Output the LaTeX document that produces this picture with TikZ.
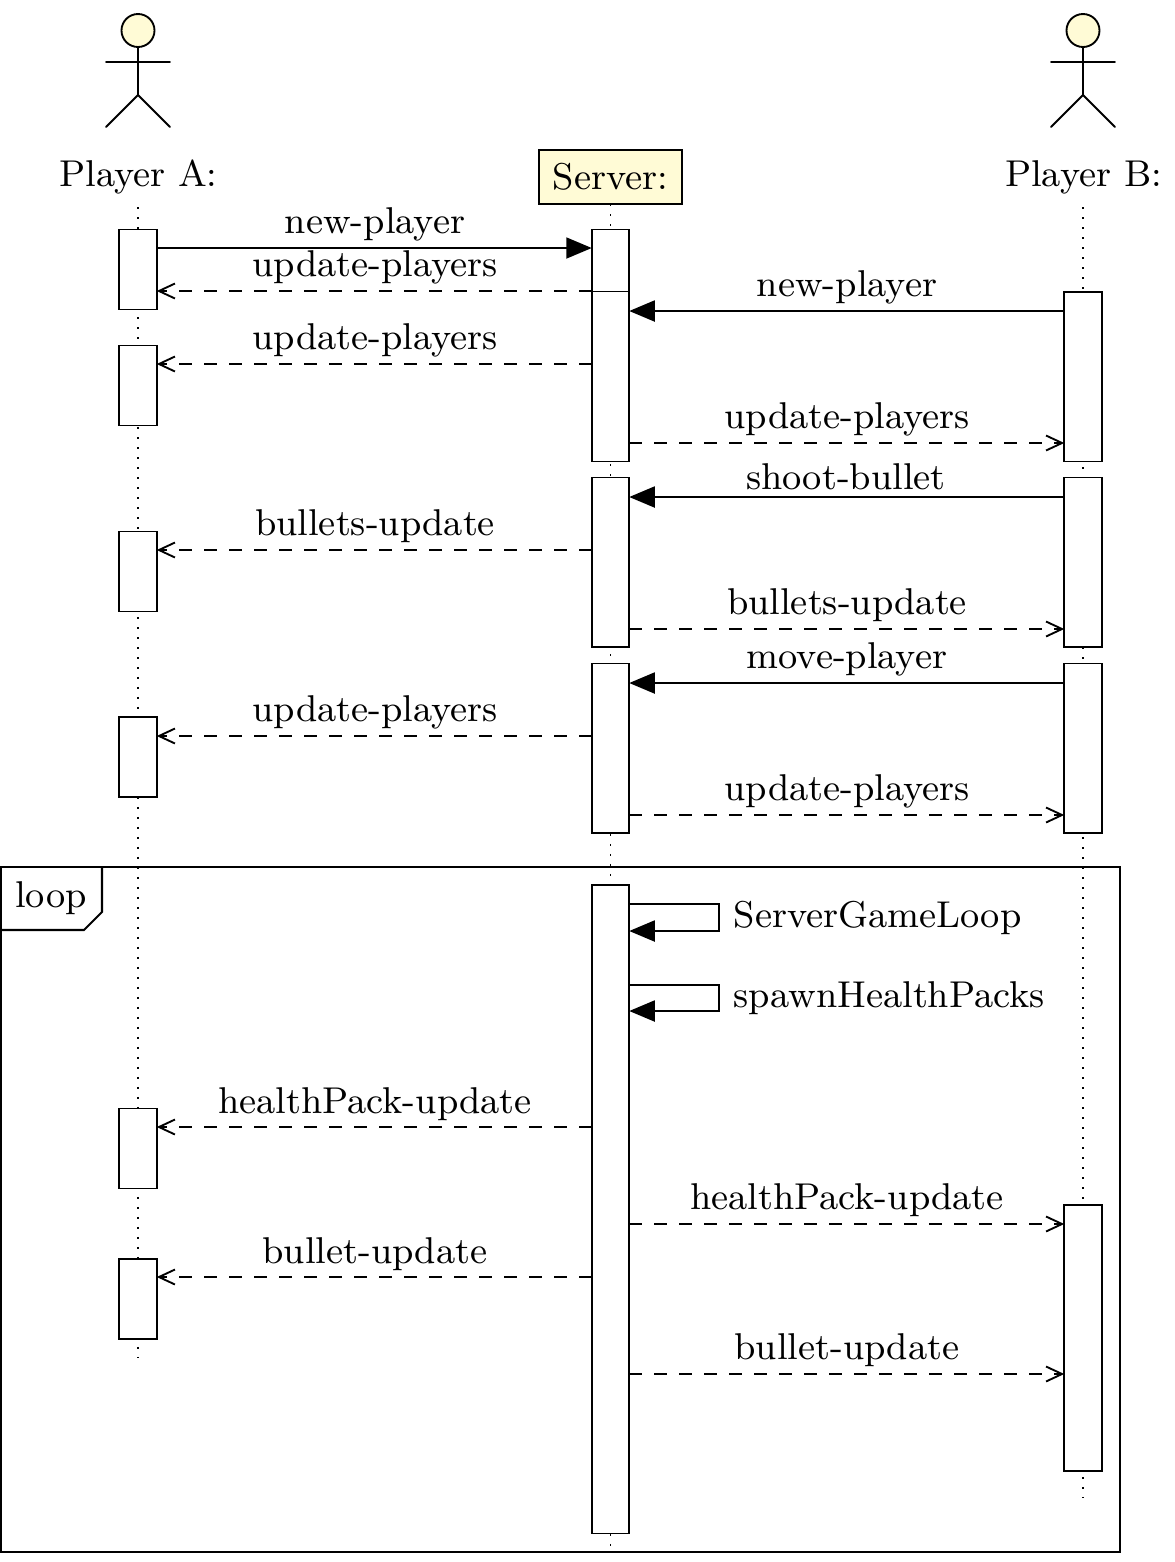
\documentclass[tikz,border=0pt]{standalone}
\usetikzlibrary{arrows.meta}
\definecolor{actoryellow}{RGB}{255,251,214}
\tikzset{
  x=0.24pt,y=-0.24pt,
  every node/.style={font=\fontsize{9}{11}\selectfont},
  lifeline/.style={dotted,line width=0.4pt},
  actbox/.style={draw,fill=white,line width=0.45pt,inner sep=0,outer sep=0,minimum width=37.5*0.24pt},
  limb/.style={line width=0.45pt,line cap=round},
  head/.style={circle,draw,fill=actoryellow,line width=0.45pt,inner sep=0,outer sep=0,minimum size=33*0.24pt},
  roletext/.style={anchor=base,inner sep=0,scale=0.995},
  serverbox/.style={draw,fill=actoryellow,line width=0.5pt,inner sep=0,outer sep=0,minimum width=143*0.24pt,minimum height=54*0.24pt},
  lbl/.style={anchor=base,inner sep=0,scale=0.995},
  sidelbl/.style={anchor=base west,inner sep=0,scale=0.995},
  call/.style={line width=0.45pt,-{Triangle[length=25.5*0.24pt,width=21*0.24pt]}},
  reply/.style={line width=0.45pt,dashed,-{Straight Barb[length=16*0.24pt,width=15*0.24pt,line width=0.45pt]}},
  loopframe/.style={draw,line width=0.6pt},
  looptagline/.style={line width=0.5pt}
}
\newcommand{\abox}[4]{\node[actbox,minimum height={(#4-#3)*0.24pt}] (#1) at (#2,{(#3+#4)/2}) {};}
\begin{document}
\begin{tikzpicture}
\useasboundingbox (0,0) rectangle (1175,1562);
% loop frame
\coordinate (fa) at (0.5,867);
\coordinate (fb) at (1120,1552);
\draw[loopframe] (fa) rectangle (fb);
% lifelines
\coordinate (la0) at (138,207); \coordinate (la1) at (138,1358);
\coordinate (ls0) at (610.5,204); \coordinate (ls1) at (610.5,1552);
\coordinate (lb0) at (1083,207); \coordinate (lb1) at (1083,1498);
\draw[lifeline] (la0) -- (la1);
\draw[lifeline] (ls0) -- (ls1);
\draw[lifeline] (lb0) -- (lb1);
% loop tag
\node[lbl] (looplabel) at (51,907) {loop};
\coordinate (t1) at (102,867); \coordinate (t2) at (102,912); \coordinate (t3) at (84,930); \coordinate (t4) at (0.5,930);
\draw[looptagline] (t1) -- (t2) -- (t3) -- (t4);
% actor A
\node[head] (headA) at (138,30.5) {};
\coordinate (hipA) at (138,95);
\coordinate (armAl) at (106,62); \coordinate (armAr) at (170,62);
\coordinate (legAl) at (106,127); \coordinate (legAr) at (170,127);
\draw[limb] (headA.south) -- (hipA);
\draw[limb] (armAl) -- (armAr);
\draw[limb] (legAl) -- (hipA) -- (legAr);
\node[roletext] (nameA) at (138.5,186) {Player A:};
% actor B
\node[head] (headB) at (1083,30.5) {};
\coordinate (hipB) at (1083,95);
\coordinate (armBl) at (1051,62); \coordinate (armBr) at (1115,62);
\coordinate (legBl) at (1051,127); \coordinate (legBr) at (1115,127);
\draw[limb] (headB.south) -- (hipB);
\draw[limb] (armBl) -- (armBr);
\draw[limb] (legBl) -- (hipB) -- (legBr);
\node[roletext] (nameB) at (1083.5,186) {Player B:};
% server
\node[serverbox] (server) at (610.5,177) {};
\node[lbl] (servername) at (610.5,189) {Server:};
% activation boxes
\abox{a1}{138}{229.5}{309.5}
\abox{a2}{138}{345.5}{425.5}
\abox{a3}{138}{531.5}{611.5}
\abox{a4}{138}{717}{797}
\abox{a5}{138}{1108.5}{1188.5}
\abox{a6}{138}{1259}{1339}
\abox{s1}{610.5}{229.5}{291.5}
\abox{s2}{610.5}{291.5}{461.5}
\abox{s3}{610.5}{477.5}{647}
\abox{s4}{610.5}{663.5}{833}
\abox{s5}{610.5}{885}{1533.5}
\abox{b1}{1083}{292}{461.5}
\abox{b2}{1083}{477.5}{647}
\abox{b3}{1083}{663.5}{833}
\abox{b4}{1083}{1205}{1471}
% messages
\draw[call] (a1.east |- 0,248) -- (s1.west |- 0,248);
\node[lbl] (m1) at (375,233) {new-player};
\draw[reply] (s1.west |- 0,291) -- (a1.east |- 0,291);
\node[lbl] (m2) at (375,276) {update-players};
\draw[call] (b1.west |- 0,311) -- (s2.east |- 0,311);
\node[lbl] (m3) at (847,296) {new-player};
\draw[reply] (s2.west |- 0,364) -- (a2.east |- 0,364);
\node[lbl] (m4) at (375,349) {update-players};
\draw[reply] (s2.east |- 0,443) -- (b1.west |- 0,443);
\node[lbl] (m5) at (847,428) {update-players};
\draw[call] (b2.west |- 0,497) -- (s3.east |- 0,497);
\node[lbl] (m6) at (846,489) {shoot-bullet};
\draw[reply] (s3.west |- 0,550) -- (a3.east |- 0,550);
\node[lbl] (m7) at (375,535) {bullets-update};
\draw[reply] (s3.east |- 0,629) -- (b2.west |- 0,629);
\node[lbl] (m8) at (847,614) {bullets-update};
\draw[call] (b3.west |- 0,683) -- (s4.east |- 0,683);
\node[lbl] (m9) at (847,668) {move-player};
\draw[reply] (s4.west |- 0,736) -- (a4.east |- 0,736);
\node[lbl] (m10) at (375,721) {update-players};
\draw[reply] (s4.east |- 0,815) -- (b3.west |- 0,815);
\node[lbl] (m11) at (847,800) {update-players};
% self calls
\coordinate (c1) at (719,904); \coordinate (c2) at (719,931);
\draw[call] (s5.east |- c1) -- (c1) -- (c2) -- (s5.east |- c2);
\node[sidelbl] (m12) at (733,927) {ServerGameLoop};
\coordinate (c3) at (719,985); \coordinate (c4) at (719,1011);
\draw[call] (s5.east |- c3) -- (c3) -- (c4) -- (s5.east |- c4);
\node[sidelbl] (m13) at (733,1007) {spawnHealthPacks};
% loop messages
\draw[reply] (s5.west |- 0,1127) -- (a5.east |- 0,1127);
\node[lbl] (m14) at (375,1113) {healthPack-update};
\draw[reply] (s5.east |- 0,1224) -- (b4.west |- 0,1224);
\node[lbl] (m15) at (847,1209) {healthPack-update};
\draw[reply] (s5.west |- 0,1277) -- (a6.east |- 0,1277);
\node[lbl] (m16) at (375,1263) {bullet-update};
\draw[reply] (s5.east |- 0,1374) -- (b4.west |- 0,1374);
\node[lbl] (m17) at (847,1359) {bullet-update};
\end{tikzpicture}
\end{document}
